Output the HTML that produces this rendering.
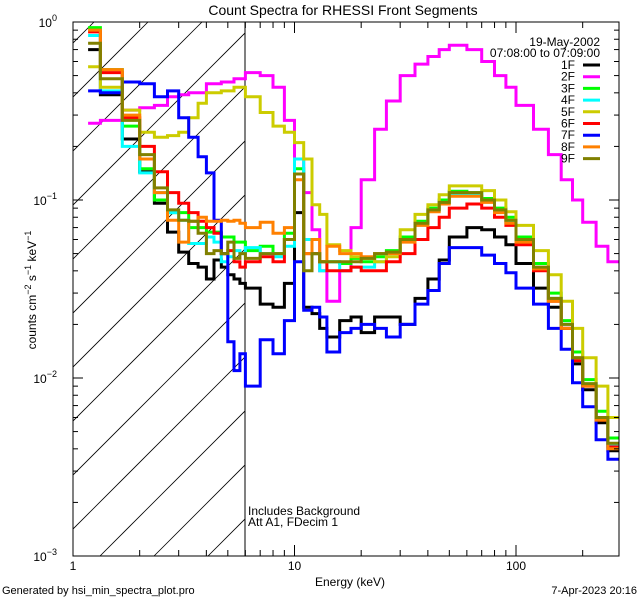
<!DOCTYPE html>
<html><head><meta charset="utf-8"><style>
body{margin:0;background:#fff;}
svg{display:block;font-family:"Liberation Sans",sans-serif;}
</style></head><body>
<svg id="chart" width="640" height="600" viewBox="0 0 640 600">
<defs><clipPath id="plotclip"><rect x="73" y="22" width="546" height="534"/></clipPath>
<clipPath id="hatchclip"><rect x="73" y="22" width="172" height="534"/></clipPath></defs>
<rect width="640" height="600" fill="#fff"/>
<text x="343" y="15" font-size="14" text-anchor="middle">Count Spectra for RHESSI Front Segments</text>
<g id="hatch" clip-path="url(#hatchclip)"></g>
<line x1="245" y1="22" x2="245" y2="556" stroke="#000" stroke-width="1"/>
<g id="series" clip-path="url(#plotclip)"></g>
<rect x="73" y="22" width="546" height="534" fill="none" stroke="#000" stroke-width="1"/>
<g id="axes"></g>
<text x="350" y="586" font-size="12" text-anchor="middle">Energy (keV)</text>
<text transform="translate(36,290) rotate(-90)" font-size="12" text-anchor="middle">counts cm<tspan dy="-5" font-size="9">−2</tspan><tspan dy="5"> s</tspan><tspan dy="-5" font-size="9">−1</tspan><tspan dy="5"> keV</tspan><tspan dy="-5" font-size="9">−1</tspan></text>
<text x="248" y="515" font-size="12">Includes Background</text>
<text x="248" y="526" font-size="12">Att A1, FDecim 1</text>
<text x="2" y="594" font-size="11">Generated by hsi_min_spectra_plot.pro</text>
<text x="637" y="594" font-size="11" text-anchor="end">7-Apr-2023 20:16</text>
<text x="600" y="46" font-size="12" text-anchor="end">19-May-2002</text>
<text x="600" y="57" font-size="12" text-anchor="end">07:08:00 to 07:09:00</text>
<g id="legend"></g>
</svg>
<script>
const edges=[1.17,1.33,1.67,2.0,2.33,2.67,3.0,3.33,3.67,4.0,4.33,4.67,5.0,5.33,5.67,6,7,8,9,10,11,12,13,14,16,18,20,23,26,30,35,40,45,50,60,70,80,90,100,120,140,160,180,200,230,260,292];
const seriesNames=["1F","2F","3F","4F","5F","6F","7F","8F","9F"];
const seriesColors=["#000000","#ff00ff","#00ff00","#00ffff","#cccc00","#ff0000","#0000ff","#ff8000","#808000"];
const s1F=[0.70,0.39,0.22,0.144,0.096,0.066,0.051,0.044,0.042,0.036,0.046,0.042,0.038,0.036,0.034,0.032,0.026,0.025,0.034,0.085,0.025,0.023,0.019,0.017,0.021,0.022,0.018,0.022,0.022,0.020,0.028,0.036,0.046,0.062,0.070,0.068,0.062,0.056,0.044,0.032,0.025,0.019,0.012,0.0086,0.0056,0.0039];
const s2F=[0.27,0.28,0.32,0.33,0.34,0.38,0.39,0.40,0.40,0.45,0.45,0.46,0.46,0.48,0.48,0.52,0.50,0.43,0.28,0.17,0.11,0.068,0.040,0.027,0.040,0.070,0.13,0.25,0.36,0.50,0.58,0.64,0.70,0.74,0.70,0.60,0.50,0.43,0.34,0.25,0.18,0.13,0.10,0.075,0.055,0.045];
const s3F=[0.93,0.54,0.26,0.15,0.10,0.085,0.085,0.070,0.070,0.066,0.066,0.062,0.062,0.058,0.058,0.052,0.055,0.050,0.065,0.15,0.060,0.050,0.045,0.045,0.044,0.047,0.045,0.048,0.052,0.062,0.076,0.090,0.100,0.112,0.110,0.102,0.090,0.080,0.062,0.044,0.030,0.021,0.014,0.0098,0.0065,0.0046];
const s4F=[0.84,0.41,0.20,0.142,0.11,0.085,0.077,0.057,0.057,0.062,0.058,0.045,0.048,0.052,0.050,0.054,0.050,0.048,0.055,0.17,0.060,0.050,0.040,0.045,0.040,0.042,0.042,0.045,0.050,0.060,0.074,0.088,0.097,0.108,0.108,0.098,0.086,0.075,0.058,0.041,0.028,0.020,0.013,0.0092,0.0060,0.0042];
const s5F=[0.56,0.43,0.32,0.24,0.225,0.23,0.24,0.29,0.35,0.40,0.40,0.41,0.41,0.43,0.43,0.38,0.31,0.26,0.24,0.21,0.17,0.094,0.083,0.056,0.052,0.048,0.047,0.045,0.048,0.068,0.083,0.094,0.107,0.12,0.12,0.113,0.10,0.086,0.072,0.052,0.038,0.027,0.019,0.013,0.009,0.006];
const s6F=[0.88,0.52,0.29,0.20,0.144,0.11,0.096,0.085,0.076,0.070,0.065,0.050,0.052,0.045,0.042,0.045,0.048,0.045,0.060,0.14,0.050,0.050,0.045,0.040,0.040,0.042,0.040,0.040,0.045,0.050,0.060,0.070,0.080,0.090,0.095,0.090,0.080,0.072,0.056,0.040,0.027,0.019,0.0125,0.009,0.0058,0.0041];
const s7F=[0.41,0.40,0.46,0.45,0.38,0.41,0.29,0.225,0.175,0.142,0.077,0.050,0.016,0.011,0.0137,0.009,0.0164,0.0137,0.021,0.045,0.024,0.025,0.022,0.014,0.018,0.019,0.020,0.019,0.017,0.020,0.026,0.031,0.044,0.054,0.054,0.049,0.044,0.039,0.032,0.026,0.019,0.0145,0.0094,0.0069,0.0045,0.0035];
const s8F=[0.90,0.54,0.30,0.17,0.11,0.077,0.058,0.076,0.080,0.076,0.076,0.077,0.076,0.077,0.074,0.070,0.075,0.065,0.070,0.13,0.050,0.060,0.045,0.055,0.050,0.050,0.048,0.050,0.050,0.058,0.072,0.086,0.095,0.105,0.105,0.097,0.085,0.074,0.058,0.041,0.027,0.019,0.013,0.009,0.0058,0.0040];
const s9F=[0.76,0.48,0.28,0.18,0.117,0.088,0.077,0.076,0.065,0.050,0.052,0.050,0.058,0.047,0.050,0.047,0.050,0.050,0.060,0.14,0.040,0.050,0.045,0.045,0.045,0.045,0.047,0.050,0.051,0.060,0.074,0.088,0.097,0.11,0.11,0.10,0.088,0.077,0.060,0.042,0.028,0.020,0.013,0.0093,0.006,0.0043];
const seriesData=[s1F,s2F,s3F,s4F,s5F,s6F,s7F,s8F,s9F];
const xMajor=[1,10,100];
const xMajorLabels=["1","10","100"];
const yMajorExp=[0,-1,-2,-3];

const NS="http://www.w3.org/2000/svg";
const X0=73,X1=619,Y0=22,Y1=556,DEC_X=221.5,DEC_Y=178;
function xs(e){return X0+DEC_X*Math.log10(e);}
function ys(v){return Y0-DEC_Y*Math.log10(v);}
function mk(tag,attrs,parent){const el=document.createElementNS(NS,tag);for(const k in attrs)el.setAttribute(k,attrs[k]);parent.appendChild(el);return el;}

// hatch
const hatch=document.getElementById('hatch');
for(let c=656-54*14;c<=656+54*2;c+=54){
  const l=mk('line',{x1:c-Y1+0,y1:Y1,x2:c-Y0,y2:Y0,stroke:'#000','stroke-width':0.8},hatch);
  
  
}
// series (draw 9F first? draw in order 1..9)
const sg=document.getElementById('series');
seriesData.forEach((vals,k)=>{
  let d='';
  for(let i=0;i<vals.length;i++){
    const y=ys(vals[i]).toFixed(1);
    if(i===0)d+='M'+xs(edges[0]).toFixed(1)+','+y;else d+='V'+y;
    d+='H'+xs(edges[i+1]).toFixed(1);
  }
  const p=mk('path',{d:d,fill:'none',stroke:seriesColors[k],'stroke-width':3,'stroke-linejoin':'miter'},sg);
  
  
});
// axes
const ax=document.getElementById('axes');
for(let dec=0;dec<3;dec++){
  for(let m=1;m<=9;m++){
    const e=Math.pow(10,dec)*m; if(e>292)break;
    const x=xs(e),len=(m===1)?11:6;
    const t1=mk('line',{x1:x,y1:Y1,x2:x,y2:Y1-len,stroke:'#000'},ax);
    
    
    const t2=mk('line',{x1:x,y1:Y0,x2:x,y2:Y0+len,stroke:'#000'},ax);
    
    
  }
}
xMajor.forEach((e,i)=>{
  const t=mk('text',{x:xs(e),y:570,'font-size':12,'text-anchor':'middle'},ax);
  t.textContent=xMajorLabels[i];
  
  
});
for(let ex=0;ex>-3;ex--){
  for(let m=1;m<=9;m++){
    const v=Math.pow(10,ex-1)*m;
    const y=ys(v),len=(m===1)?10:5;
    const a=mk('line',{x1:X0,y1:y,x2:X0+len,y2:y,stroke:'#000'},ax);
    
    
    const b=mk('line',{x1:X1,y1:y,x2:X1-len,y2:y,stroke:'#000'},ax);
    
    
  }
}
yMajorExp.forEach(ex=>{
  const t=mk('text',{x:57,y:ys(Math.pow(10,ex))+5,'font-size':12,'text-anchor':'end'},ax);
  
  
  t.innerHTML='10<tspan dy="-6" font-size="9">'+(ex===0?'0':'−'+(-ex))+'</tspan>';
});
// legend
const lg=document.getElementById('legend');
seriesNames.forEach((n,k)=>{
  const y=65+k*11.7;
  const t=mk('text',{x:575,y:y+4,'font-size':12,'text-anchor':'end'},lg);
  t.textContent=n;
  
  
  const l=mk('line',{x1:583,y1:y,x2:600,y2:y,stroke:seriesColors[k],'stroke-width':3},lg);
  
  
});
</script>
</body></html>
